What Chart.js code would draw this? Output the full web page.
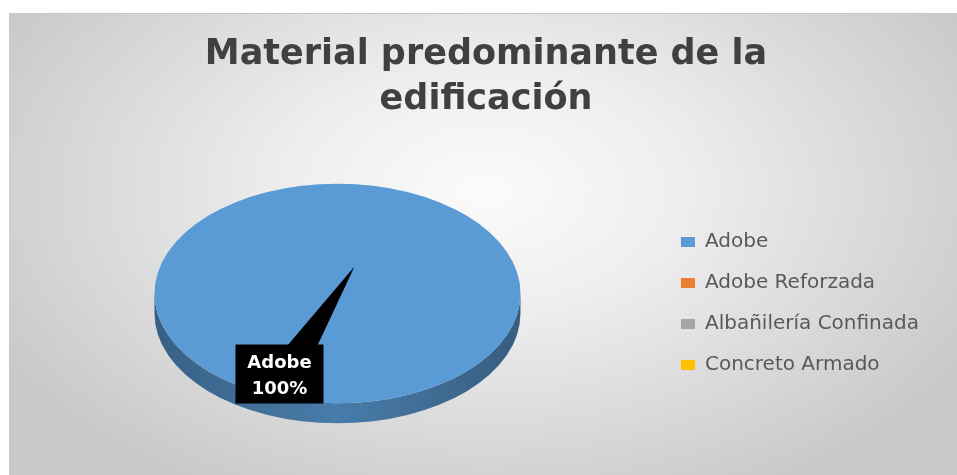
<!DOCTYPE html>
<html>
<head>
<meta charset="utf-8">
<script src="https://cdn.jsdelivr.net/npm/chart.js@4.4.1/dist/chart.umd.min.js"></script>
<style>
  html, body { margin: 0; padding: 0; background: #ffffff; }
  canvas { display: block; }
</style>
</head>
<body>
<canvas id="grafico" width="957" height="475"></canvas>
<script>
var titulo = ['Material predominante de la', 'edificación'];
var materiales = ['Adobe', 'Adobe Reforzada', 'Albañilería Confinada', 'Concreto Armado'];
var porcentajes = [100, 0, 0, 0];
var colores = ['#5b9bd5', '#ed7d31', '#a5a5a5', '#ffc000'];

var inclinacion = 0.6;   // alto / ancho de la cara superior del pastel
var grosor = 20;         // espesor del canto, en px

// recuadro negro con flecha para la etiqueta de datos
var etiqueta = { ancho: 88, alto: 59, dx: -0.317, dy: 0.44, puntaX: 0.093, puntaY: -0.148, baseIni: 52, baseFin: 82 };

function oscurecer(hex, f) {
  var n = parseInt(hex.slice(1), 16);
  var r = Math.round(((n >> 16) & 255) * f);
  var g = Math.round(((n >> 8) & 255) * f);
  var b = Math.round((n & 255) * f);
  return 'rgb(' + r + ',' + g + ',' + b + ')';
}

// fondo gris con degradado radial
var fondo = {
  id: 'fondo',
  beforeDraw: function(chart) {
    var ctx = chart.ctx, w = chart.width, h = chart.height;
    ctx.save();
    ctx.fillStyle = '#ffffff';
    ctx.fillRect(0, 0, w, h);
    ctx.beginPath();
    ctx.rect(9, 13, w - 9, h - 13);
    ctx.clip();
    ctx.translate(485, 190);
    ctx.scale(1, 0.62);
    var g = ctx.createRadialGradient(0, 0, 0, 0, 0, 560);
    g.addColorStop(0, '#fbfbfb');
    g.addColorStop(0.35, '#eeeeee');
    g.addColorStop(1, '#c8c8c8');
    ctx.fillStyle = g;
    ctx.fillRect(-700, -700, 1400, 1400);
    ctx.restore();
    ctx.save();
    ctx.strokeStyle = '#c6c6c6';
    ctx.lineWidth = 1;
    ctx.beginPath();
    ctx.moveTo(9, 13.5);
    ctx.lineTo(w, 13.5);
    ctx.stroke();
    ctx.restore();
  }
};

// hueco a la derecha de la leyenda
var margenDerecho = {
  id: 'margenDerecho',
  beforeInit: function(chart) {
    Chart.layouts.addBox(chart, {
      position: 'right', weight: 3000, fullSize: false, options: {},
      width: 0, height: 0, left: 0, top: 0, right: 0, bottom: 0,
      isHorizontal: function() { return false; },
      update: function(maxWidth, maxHeight) { this.width = 28; this.height = maxHeight; },
      draw: function() {}
    });
  }
};

// pastel en perspectiva: se aplana la cara y se dibuja el canto debajo
var pastel3d = {
  id: 'pastel3d',
  beforeDatasetsDraw: function(chart) {
    var ctx = chart.ctx;
    var arcos = chart.getDatasetMeta(0).data;
    var cx = arcos[0].x, cy = arcos[0].y, r = arcos[0].outerRadius;
    var esp = grosor / inclinacion;
    ctx.save();
    ctx.translate(cx, cy - grosor / 2);
    ctx.scale(1, inclinacion);
    ctx.translate(-cx, -cy);
    arcos.forEach(function(arco, i) {
      var ini = Math.max(arco.startAngle, 0);
      var fin = Math.min(arco.endAngle, Math.PI);
      if (fin <= ini) return;
      var g = ctx.createLinearGradient(cx - r, 0, cx + r, 0);
      g.addColorStop(0, oscurecer(colores[i], 0.62));
      g.addColorStop(0.5, oscurecer(colores[i], 0.8));
      g.addColorStop(1, oscurecer(colores[i], 0.6));
      ctx.beginPath();
      ctx.arc(cx, cy + esp, r, ini, fin);
      ctx.arc(cx, cy, r, fin, ini, true);
      ctx.closePath();
      ctx.fillStyle = g;
      ctx.fill();
    });
  },
  afterDatasetsDraw: function(chart) {
    var ctx = chart.ctx;
    ctx.restore();
    var arcos = chart.getDatasetMeta(0).data;
    var total = porcentajes.reduce(function(a, b) { return a + b; }, 0);
    arcos.forEach(function(arco, i) {
      if (!porcentajes[i]) return;
      var cx = arco.x, cy = arco.y - grosor / 2, r = arco.outerRadius;
      var bx = cx + etiqueta.dx * r - etiqueta.ancho / 2;
      var by = cy + etiqueta.dy * r - etiqueta.alto / 2;
      ctx.save();
      ctx.fillStyle = '#000000';
      ctx.beginPath();
      ctx.moveTo(bx + etiqueta.baseIni, by + 1);
      ctx.lineTo(cx + etiqueta.puntaX * r, cy + etiqueta.puntaY * r);
      ctx.lineTo(bx + etiqueta.baseFin, by + 1);
      ctx.closePath();
      ctx.fill();
      ctx.fillRect(bx, by, etiqueta.ancho, etiqueta.alto);
      ctx.fillStyle = '#ffffff';
      ctx.font = 'bold 18px "DejaVu Sans"';
      ctx.textAlign = 'center';
      ctx.textBaseline = 'middle';
      ctx.fillText(materiales[i], bx + etiqueta.ancho / 2, by + 19);
      ctx.fillText(Math.round(porcentajes[i] / total * 100) + '%', bx + etiqueta.ancho / 2, by + 45);
      ctx.restore();
    });
  }
};

var ctx = document.getElementById('grafico').getContext('2d');
window.grafico = new Chart(ctx, {
  type: 'pie',
  data: {
    labels: materiales,
    datasets: [{
      data: porcentajes,
      backgroundColor: colores,
      borderWidth: 0,
      radius: 183,
      clip: false
    }]
  },
  options: {
    responsive: false,
    animation: false,
    events: [],
    layout: { padding: { top: 13, left: 15, right: 0, bottom: 9.5 } },
    plugins: {
      title: {
        display: true,
        text: titulo,
        color: '#404040',
        font: { family: '"DejaVu Sans"', size: 35, weight: 'bold', lineHeight: '45px' },
        padding: { top: 19.5, bottom: 19 }
      },
      legend: {
        position: 'right',
        fullSize: false,
        maxWidth: 400,
        labels: {
          boxWidth: 14,
          boxHeight: 10,
          padding: 21,
          color: '#595959',
          font: { family: '"DejaVu Sans"', size: 20 }
        }
      },
      tooltip: { enabled: false }
    }
  },
  plugins: [fondo, margenDerecho, pastel3d]
});
</script>
</body>
</html>
